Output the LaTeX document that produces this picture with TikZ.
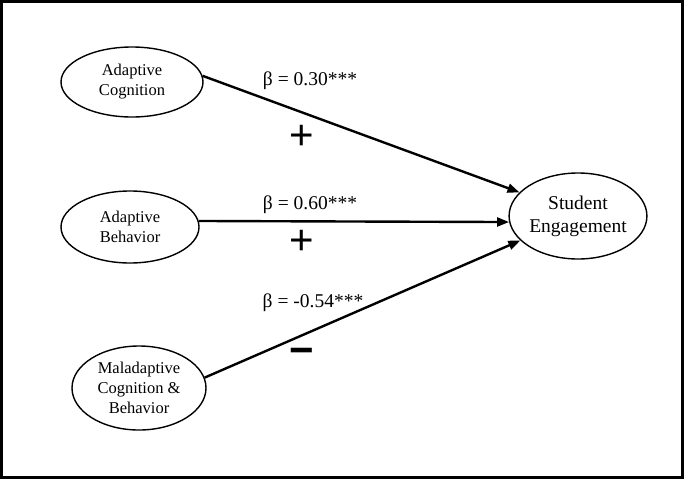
\documentclass[tikz,border=0pt]{standalone}
\usepackage{fontspec}
\setmainfont{Liberation Serif}
\newfontfamily\signfont{Liberation Sans}
\usetikzlibrary{shapes.geometric,arrows.meta}
\begin{document}
\begin{tikzpicture}[x=1pt,y=-1pt,
  var/.style={ellipse,draw,line width=1.4pt,inner sep=0pt,align=center,font=\fontsize{16.5}{20}\selectfont},
  path/.style={line width=2.4pt,-{Triangle[length=12pt,width=9pt]}},
  coef/.style={font=\fontsize{19.5}{22}\selectfont},
  sign/.style={font=\signfont\fontsize{42}{42}\selectfont,inner sep=0pt}]
\useasboundingbox (0,0) rectangle (684,479);
\draw[line width=2.5pt] (1.5,1.5) rectangle (682.5,477.5);
\node[var,minimum width=142pt,minimum height=70pt] (ac) at (132,82) {Adaptive\\Cognition};
\node[var,minimum width=138pt,minimum height=72pt] (ab) at (130,227) {Adaptive\\Behavior};
\node[var,minimum width=134pt,minimum height=84pt] (mcb) at (139,388) {Maladaptive\\Cognition \&\\Behavior};
\node[var,minimum width=134pt,minimum height=86pt,font=\fontsize{19.5}{23}\selectfont] (se) at (578,216) {Student\\Engagement};
\draw[path] (ac.5) -- (se.158);
\draw[path] (ab.5) -- (se.185);
\draw[path] (mcb.9.5) -- (se.203);
\node[coef] (c1) at (310,81) {β = 0.30***};
\node[coef] (c2) at (310,205) {β = 0.60***};
\node[coef] (c3) at (313,303) {β = -0.54***};
\node[sign] (s1) at (302,137) {+};
\node[sign] (s2) at (302,242) {+};
\node[sign,font=\signfont\bfseries\fontsize{42}{42}\selectfont] (s3) at (302,356) {−};
\end{tikzpicture}
\end{document}
